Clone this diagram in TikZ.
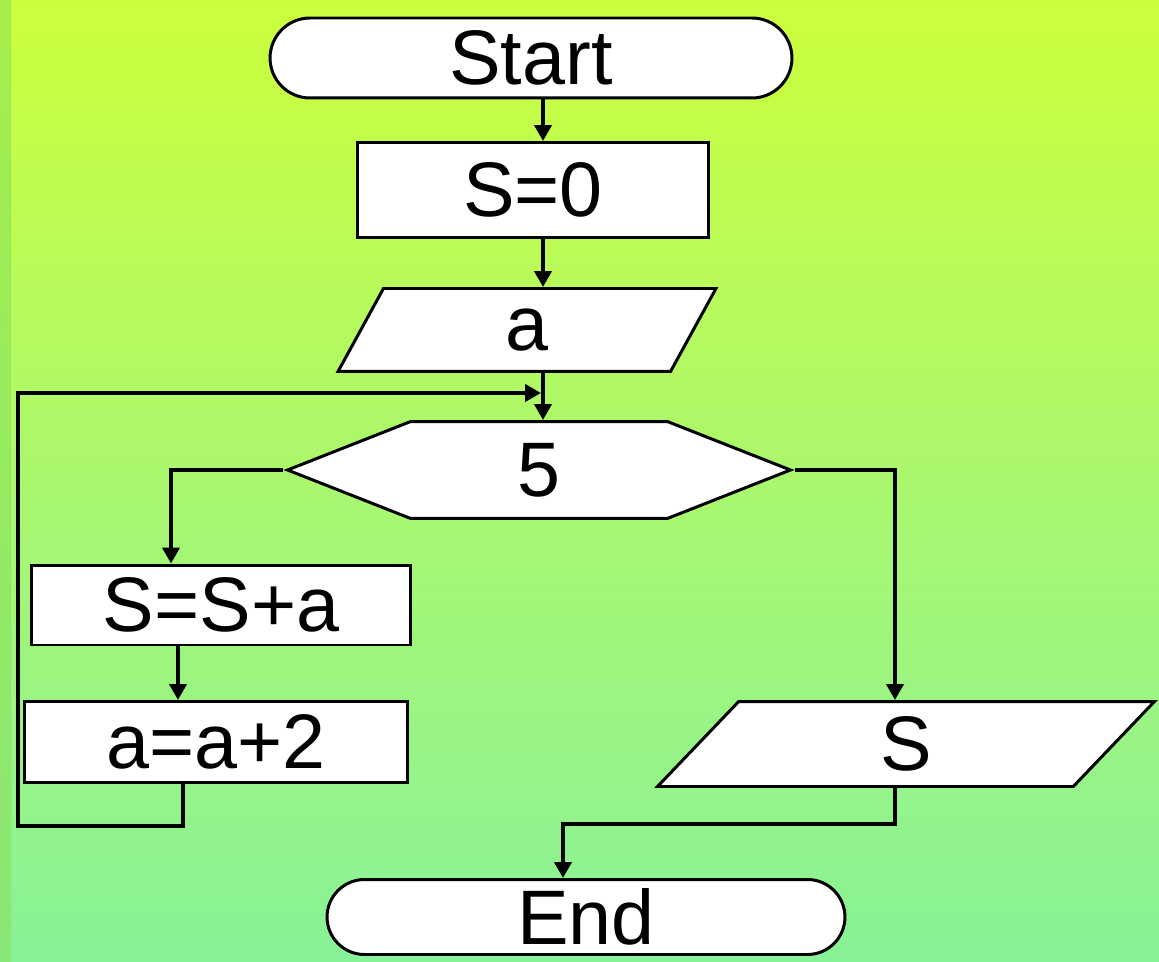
\documentclass[tikz,border=0pt]{standalone}
\usepackage{fontspec}
\setmainfont{Liberation Sans}
\usetikzlibrary{shapes.geometric,shapes.misc,shapes.symbols,arrows.meta}
\definecolor{bgtop}{RGB}{204,255,60}
\definecolor{bgmid}{RGB}{170,247,110}
\definecolor{bgbot}{RGB}{136,242,152}
\definecolor{striptop}{RGB}{165,238,75}
\definecolor{stripbot}{RGB}{136,230,118}

\begin{document}
\begin{tikzpicture}[
    x=0.02cm, y=-0.02cm,
    base/.style={draw=black, fill=white, line width=1.7pt, inner sep=0pt,
                 font=\fontsize{44}{52}\selectfont},
    terminal/.style={base, rounded rectangle},
    process/.style={base, rectangle},
    io/.style={base, trapezium, trapezium stretches body},
    decision/.style={base, signal, signal to=east and west},
    arrow/.style={-{Triangle[length=0.32cm,width=0.34cm]}, line width=2.8pt}
]
    % Background
    \useasboundingbox (0,0) rectangle (1159,962);
    \shade[top color=bgtop, bottom color=bgbot, middle color=bgmid] (0,0) rectangle (1159,962);
    \shade[top color=striptop, bottom color=stripbot] (0,0) rectangle (11,962);

    % Main column
    \node[terminal, minimum width=10.44cm, minimum height=1.6cm] (start) at (531,58) {Start};
    \node[process, minimum width=7.04cm, minimum height=1.9cm] (init) at (533,190) {S=0};
    \node[io, trapezium left angle=43, trapezium right angle=137,
          minimum width=7.56cm, minimum height=1.66cm] (input) at (527,330) {a};
    \node[decision, signal pointer angle=43,
          minimum width=10.06cm, minimum height=1.94cm] (cond) at (539,470) {5};

    % Loop body
    \node[process, minimum width=7.58cm, minimum height=1.6cm] (add) at (221,605) {S=S+a};
    \node[process, minimum width=7.66cm, minimum height=1.62cm] (incr) at (216,742) {a=a+2};

    % Output and end
    \node[io, trapezium left angle=34, trapezium right angle=146,
          minimum width=9.94cm, minimum height=1.7cm] (output) at (906,744) {S};
    \node[terminal, minimum width=10.36cm, minimum height=1.5cm] (stop) at (586,917) {End};

    % Helper points for the connectors
    \coordinate (col) at (543,0);
    \coordinate (lcol) at (171,0);
    \coordinate (lcol2) at (178,0);
    \coordinate (rcol) at (895,0);
    \coordinate (exit) at (183,0);
    \coordinate (back) at (18,826);
    \coordinate (merge) at (541,393);
    \coordinate (join) at (563,824);

    % Connections
    \draw[arrow] (col |- start.south) -- (col |- init.north);
    \draw[arrow] (col |- init.south) -- (col |- input.north);
    \draw[arrow] (col |- input.south) -- (col |- cond.north);
    \draw[arrow] (cond.west) -| (lcol |- add.north);
    \draw[arrow] (lcol2 |- add.south) -- (lcol2 |- incr.north);
    \draw[arrow] (exit |- incr.south) |- (back) |- (merge);
    \draw[arrow] (cond.east) -| (rcol |- output.north);
    \draw[arrow] (rcol |- output.south) |- (join) -- (join |- stop.north);

\end{tikzpicture}
\end{document}
